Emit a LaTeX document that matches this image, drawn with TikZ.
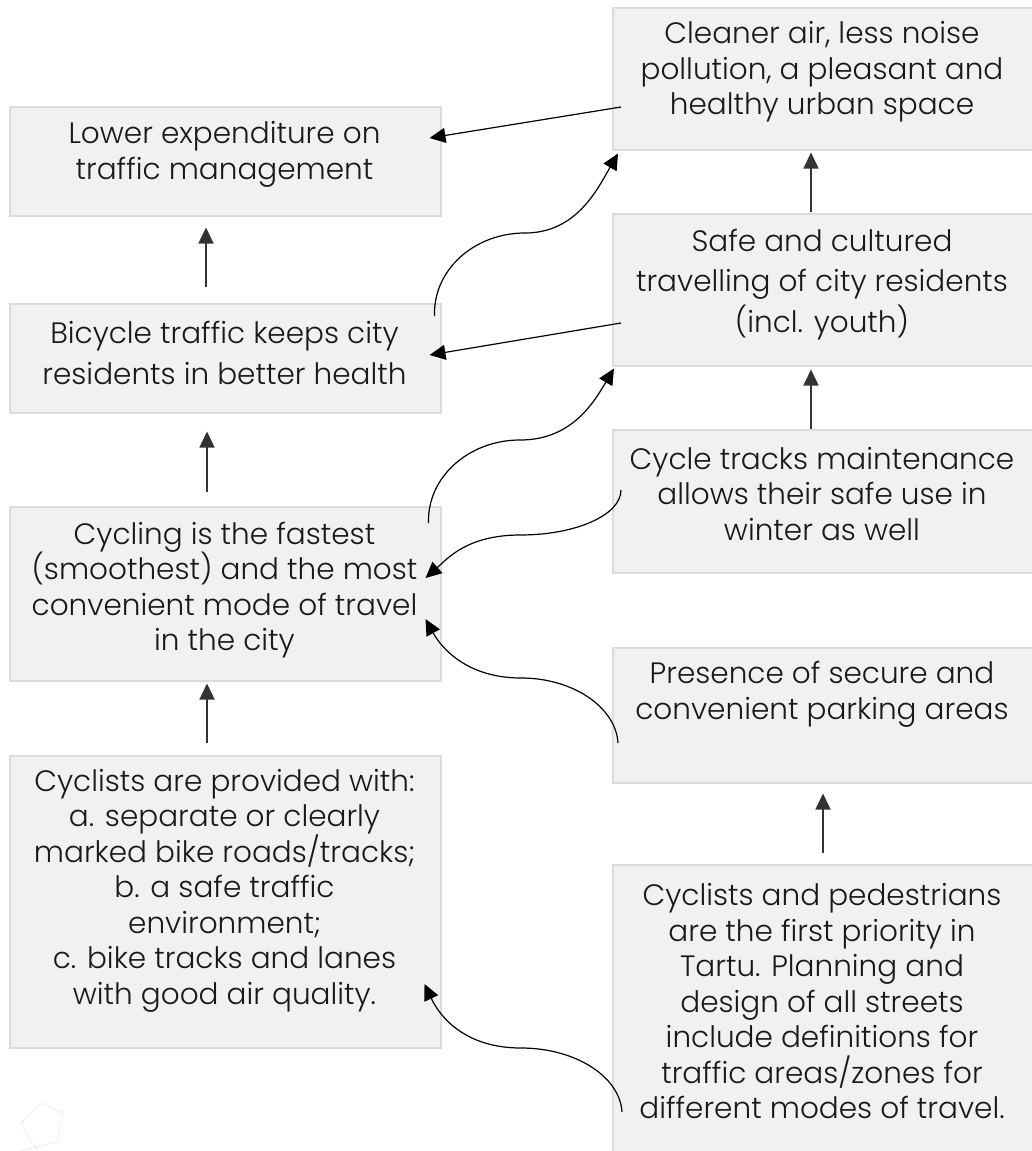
\documentclass[tikz,border=0pt]{standalone}
\usepackage{fontspec}
\IfFontExistsTF{Poppins Light}{\setmainfont{Poppins Light}}{\setmainfont{Poppins}}
\usetikzlibrary{arrows.meta,calc}
\definecolor{boxfill}{HTML}{F1F1F1}
\definecolor{boxline}{HTML}{DCDCDC}
\definecolor{faintblue}{HTML}{B8D4F0}
\begin{document}
\begin{tikzpicture}[x=1pt,y=-1pt,
  box/.style={draw=boxline,line width=1.5pt,fill=boxfill,anchor=north west,inner sep=0pt},
  txt/.style={align=center,font=\fontsize{29.5}{35.5}\selectfont,inner sep=0pt,text=black!90},
  wide/.style={font=\fontsize{29.5}{40.5}\selectfont},
  arr/.style={-{Triangle[length=16pt,width=15pt]},line width=1.2pt,black},
  varr/.style={-{Triangle[length=16pt,width=15pt]},line width=1.5pt,black!80}]
\useasboundingbox (0,0) rectangle (1032,1151);
% boxes
\node[box,minimum width=431pt,minimum height=109pt] (L1) at (9,106) {};
\node[box,minimum width=431pt,minimum height=109pt] (L2) at (9,303) {};
\node[box,minimum width=431pt,minimum height=174pt] (L3) at (9,506) {};
\node[box,minimum width=431pt,minimum height=292pt] (L4) at (9,755) {};
\node[box,minimum width=424pt,minimum height=142pt] (R1) at (612,7) {};
\node[box,minimum width=424pt,minimum height=152pt] (R2) at (612,213) {};
\node[box,minimum width=424pt,minimum height=143pt] (R3) at (612,429) {};
\node[box,minimum width=424pt,minimum height=135pt] (R4) at (612,647) {};
\node[box,minimum width=424pt,minimum height=320pt] (R5) at (612,864) {};
% texts
\node[txt] (L1t) at (224.5,154.5) {Lower expenditure on\\traffic management};
\node[txt,wide] (L2t) at (224.5,353) {Bicycle traffic keeps city\\residents in better health};
\node[txt] (L3t) at (224.5,590) {Cycling is the fastest\\(smoothest) and the most\\convenient mode of travel\\in the city};
\node[txt] (L4t) at (224.5,890.5) {Cyclists are provided with:\\a. separate or clearly\\marked bike roads/tracks;\\b. a safe traffic\\environment;\\c. bike tracks and lanes\\with good air quality.};
\node[txt] (R1t) at (822,72) {Cleaner air, less noise\\pollution, a pleasant and\\healthy urban space};
\node[txt,wide] (R2t) at (822,284.5) {Safe and cultured\\travelling of city residents\\(incl. youth)};
\node[txt] (R3t) at (822,494) {Cycle tracks maintenance\\allows their safe use in\\winter as well};
\node[txt] (R4t) at (822,694.5) {Presence of secure and\\convenient parking areas};
\node[txt] (R5t) at (822,1001.5) {Cyclists and pedestrians\\are the first priority in\\Tartu. Planning and\\design of all streets\\include definitions for\\traffic areas/zones for\\different modes of travel.};
% vertical arrows
\draw[varr] ($(L2.north west)+(197,-16)$) -- ($(L1.south west)+(197,11)$);
\draw[varr] ($(L3.north west)+(198,-14)$) -- ($(L2.south west)+(198,18)$);
\draw[varr] ($(L4.north west)+(198,-12)$) -- ($(L3.south west)+(198,2)$);
\draw[varr] ($(R2.north west)+(199,-1)$) -- ($(R1.south west)+(199,2)$);
\draw[varr] ($(R3.north west)+(199,0)$) -- ($(R2.south west)+(199,3)$);
\draw[varr] ($(R5.north west)+(211,-11)$) -- ($(R4.south west)+(211,10)$);
% straight slanted arrows
\draw[arr] ($(R1.north west)+(9,100)$) -- ($(L1.north east)+(-12,32)$);
\draw[arr] ($(R2.north west)+(9,110)$) -- ($(L2.north east)+(-12,52)$);
% curved arrows
\draw[arr] ($(L2.north east)+(-7,13)$) .. controls (433,270) and (474,233) .. (525,233)
  .. controls (576,233) and (597,190) .. ($(R1.south west)+(6,3)$);
\draw[arr] ($(L3.north east)+(-13,17)$) .. controls (427,477) and (469,440) .. (520,440)
  .. controls (572,440) and (594,402) .. ($(R2.south west)+(2,2)$);
\draw[arr] ($(R3.north west)+(9,61)$) .. controls (621,515) and (576,535) .. (520,535)
  .. controls (467,535) and (447,559) .. ($(L3.north east)+(-16,72)$);
\draw[arr] ($(R4.north west)+(6,96)$) .. controls (616,708) and (574,678) .. (521,678)
  .. controls (468,678) and (442,649) .. ($(L3.north east)+(-16,113)$);
\draw[arr] ($(R5.north west)+(10,248)$) .. controls (620,1077) and (576,1048) .. (521,1048)
  .. controls (467,1048) and (441,1019) .. ($(L4.north east)+(-17,229)$);
% faint pentagon mark
\draw[faintblue,line width=0.6pt,densely dotted] (42,1103) -- (63,1113) -- (57,1142) -- (34,1147) -- (21,1123) -- cycle;
\draw[faintblue,line width=0.6pt,densely dotted] (20,1151) -- (36,1147) -- (38,1151);
\end{tikzpicture}
\end{document}
